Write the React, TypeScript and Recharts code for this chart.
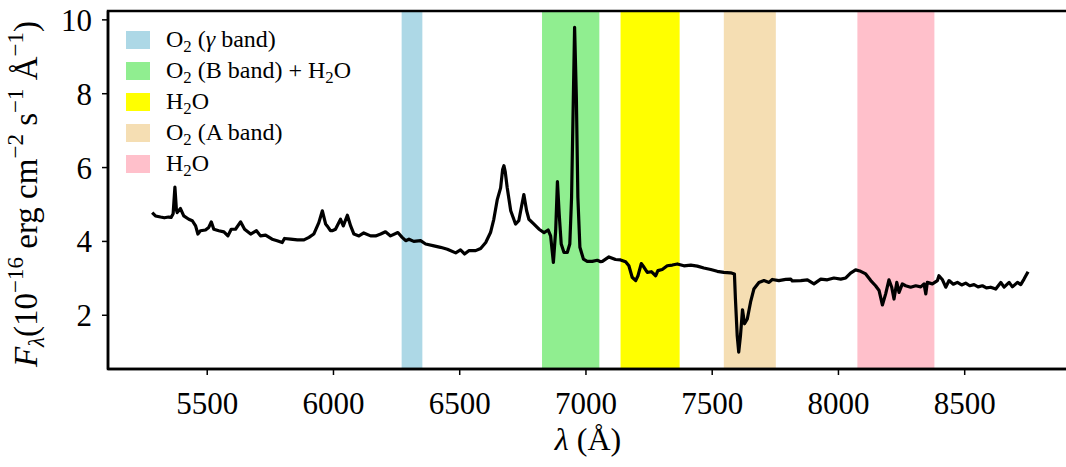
import React from 'react';
import { LineChart, Line, XAxis, YAxis, ReferenceArea, Legend, Label } from 'recharts';

// Spectrum (wavelength in Å, flux in 1e-16 erg cm^-2 s^-1 Å^-1)
const wavelength = [
  5282, 5295, 5315, 5330, 5347, 5357, 5365, 5372, 5378, 5381, 5394, 5407, 5427, 5441, 5454, 5463, 5473, 5493,
  5506, 5516, 5526, 5546, 5566, 5582, 5595, 5612, 5632, 5648, 5672, 5695, 5711, 5731, 5757, 5777, 5797, 5806,
  5830, 5857, 5883, 5903, 5922, 5942, 5956, 5969, 5975, 5988, 5995, 6008, 6028, 6039, 6055, 6068, 6081, 6101,
  6120, 6147, 6167, 6187, 6206, 6226, 6255, 6272, 6286, 6299, 6318, 6345, 6365, 6398, 6424, 6451, 6484, 6503,
  6519, 6536, 6563, 6583, 6603, 6622, 6635, 6649, 6662, 6670, 6675, 6680, 6688, 6702, 6721, 6734, 6744, 6754,
  6765, 6774, 6794, 6814, 6834, 6850, 6860, 6871, 6880, 6887, 6894, 6902, 6913, 6926, 6936, 6943, 6950, 6955,
  6962, 6968, 6976, 6990, 7005, 7025, 7045, 7058, 7065, 7091, 7117, 7137, 7157, 7170, 7183, 7197, 7206, 7219,
  7230, 7243, 7259, 7276, 7285, 7302, 7322, 7342, 7362, 7388, 7415, 7441, 7467, 7494, 7520, 7546, 7573, 7588,
  7592, 7599, 7605, 7612, 7620, 7628, 7639, 7652, 7665, 7685, 7705, 7725, 7738, 7764, 7791, 7811, 7817, 7851,
  7877, 7903, 7930, 7956, 7982, 8009, 8029, 8048, 8068, 8088, 8108, 8128, 8147, 8161, 8174, 8187, 8200, 8211,
  8220, 8231, 8240, 8253, 8266, 8286, 8306, 8326, 8339, 8346, 8352, 8372, 8392, 8398, 8412, 8425, 8438, 8455,
  8471, 8488, 8504, 8520, 8537, 8553, 8570, 8586, 8603, 8623, 8643, 8656, 8676, 8689, 8709, 8722, 8735, 8751,
];
const flux = [
  4.78, 4.69, 4.66, 4.64, 4.66, 4.65, 4.75, 5.47, 4.85, 4.78, 4.89, 4.69, 4.6, 4.56, 4.42, 4.2, 4.29, 4.31,
  4.38, 4.53, 4.33, 4.29, 4.26, 4.15, 4.33, 4.33, 4.53, 4.33, 4.2, 4.29, 4.15, 4.17, 4.06, 4.02, 3.97, 4.08,
  4.06, 4.04, 4.04, 4.11, 4.2, 4.51, 4.83, 4.47, 4.42, 4.29, 4.29, 4.33, 4.6, 4.42, 4.71, 4.42, 4.2, 4.15,
  4.23, 4.15, 4.15, 4.2, 4.26, 4.15, 4.24, 4.11, 4.02, 4.06, 4.0, 4.02, 3.93, 3.88, 3.84, 3.79, 3.69, 3.77,
  3.66, 3.75, 3.75, 3.81, 3.97, 4.24, 4.6, 5.14, 5.45, 5.95, 6.05, 5.9, 5.46, 4.83, 4.47, 4.56, 4.92, 5.27,
  4.83, 4.6, 4.47, 4.33, 4.24, 4.31, 4.15, 3.43, 4.29, 5.62, 4.74, 3.93, 3.7, 3.7, 3.93, 5.19, 7.89, 9.8,
  7.89, 5.19, 3.84, 3.52, 3.46, 3.46, 3.49, 3.45, 3.46, 3.58, 3.51, 3.5, 3.45, 3.34, 3.03, 2.94, 3.07, 3.4,
  3.3, 3.16, 3.18, 3.07, 3.21, 3.24, 3.34, 3.36, 3.39, 3.34, 3.36, 3.33, 3.28, 3.24, 3.19, 3.16, 3.15, 3.12,
  2.44, 1.45, 1.0, 1.45, 2.15, 1.77, 1.9, 2.36, 2.71, 2.89, 2.94, 2.89, 2.97, 2.94, 2.97, 2.98, 2.93, 2.94,
  2.96, 2.85, 2.98, 2.96, 3.01, 2.98, 3.01, 3.14, 3.23, 3.19, 3.12, 2.94, 2.8, 2.67, 2.28, 2.58, 2.96, 2.76,
  2.44, 2.89, 2.62, 2.85, 2.8, 2.76, 2.8, 2.77, 2.85, 2.58, 2.89, 2.85, 2.94, 3.07, 2.96, 2.76, 2.94, 2.84,
  2.89, 2.82, 2.87, 2.8, 2.83, 2.77, 2.8, 2.74, 2.76, 2.71, 2.89, 2.76, 2.89, 2.77, 2.89, 2.83, 2.98, 3.18,
];

const xTicks = [5500, 6000, 6500, 7000, 7500, 8000, 8500];
const yTicks = [2, 4, 6, 8, 10];

// Telluric absorption bands
const bandLabels: [string, string][][] = [
  [['O', ''], ['2', 'sub'], [' (', ''], ['γ', 'it'], [' band)', '']],
  [['O', ''], ['2', 'sub'], [' (B band) + H', ''], ['2', 'sub'], ['O', '']],
  [['H', ''], ['2', 'sub'], ['O', '']],
  [['O', ''], ['2', 'sub'], [' (A band)', '']],
  [['H', ''], ['2', 'sub'], ['O', '']],
];
const bandStart = [6270, 6826, 7137, 7546, 8075];
const bandEnd = [6352, 7053, 7371, 7752, 8380];
const bandColors = ['#ADD8E6', '#90EE90', '#FFFF00', '#F5DEB3', '#FFC0CB'];

const xDomain = [5107, 8925];
const yDomain = [0.545, 10.24];

const data = wavelength.map((w, i) => ({ w, f: flux[i] }));
const FONT = "'Liberation Serif', 'DejaVu Serif', serif";

const YLabel = (props: any) => {
  const vb = props.viewBox || { x: 48, y: 11, width: 60, height: 358 };
  const cx = 37;
  const cy = vb.y + vb.height / 2 + 4;
  return (
    <text x={cx} y={cy} transform={`rotate(-90 ${cx} ${cy})`} textAnchor="middle" fontSize={33} fontFamily={FONT} fill="#000">
      <tspan fontStyle="italic">F</tspan>
      <tspan fontSize={23} fontStyle="italic" dy={7}>λ</tspan>
      <tspan dy={-7}>{'(10'}</tspan>
      <tspan fontSize={23} dy={-14}>{'−16'}</tspan>
      <tspan dy={14}>{' erg cm'}</tspan>
      <tspan fontSize={23} dy={-14}>{'−2'}</tspan>
      <tspan dy={14}>{' s'}</tspan>
      <tspan fontSize={23} dy={-14}>{'−1'}</tspan>
      <tspan dy={14}>{' Å'}</tspan>
      <tspan fontSize={23} dy={-14}>{'−1'}</tspan>
      <tspan dy={14}>{')'}</tspan>
    </text>
  );
};

const XLabel = (props: any) => {
  const vb = props.viewBox || { x: 108, y: 369, width: 964, height: 60 };
  const cx = 588;
  return (
    <text x={cx} y={vb.y + 81} textAnchor="middle" fontSize={32} fontFamily={FONT} fill="#000">
      <tspan fontStyle="italic">λ</tspan>
      <tspan>{' (Å)'}</tspan>
    </text>
  );
};

const LegendBox = () => (
  <div style={{ fontFamily: FONT, fontSize: 24, color: '#000', position: 'relative' }}>
    {bandLabels.map((segs, i) => (
      <div key={i} style={{ display: 'flex', alignItems: 'center', height: 31.1, whiteSpace: 'pre' }}>
        <div style={{ width: 24, height: 18, background: bandColors[i], flex: '0 0 auto' }} />
        <div style={{ marginLeft: 16, lineHeight: 'normal' }}>
          {segs.map(([t, k], j) =>
            k === 'sub' ? (
              <span key={j} style={{ fontSize: '0.7em', position: 'relative', top: '0.28em' }}>{t}</span>
            ) : k === 'it' ? (
              <span key={j} style={{ fontStyle: 'italic' }}>{t}</span>
            ) : (
              <span key={j}>{t}</span>
            )
          )}
        </div>
      </div>
    ))}
  </div>
);

export default function App() {
  return (
    <div style={{ position: 'fixed', left: 0, top: 0, width: 1066, height: 467, overflow: 'hidden', background: '#fff' }}>
      <LineChart
        width={1090}
        height={467}
        data={data}
        margin={{ top: 11, right: 18, bottom: 38, left: 48 }}
        style={{ fontFamily: FONT }}
      >
        {bandStart.map((s, i) => (
          <ReferenceArea
            key={i}
            x1={s}
            x2={bandEnd[i]}
            y1={yDomain[0]}
            y2={yDomain[1]}
            fill={bandColors[i]}
            fillOpacity={1}
            stroke="none"
            isAnimationActive={false}
          />
        ))}
        <XAxis
          dataKey="w"
          type="number"
          domain={xDomain}
          ticks={xTicks}
          interval={0}
          allowDataOverflow
          height={60}
          tickSize={6}
          tickMargin={17}
          tick={{ fontSize: 31, fill: '#000', fontFamily: FONT }}
          tickLine={{ stroke: '#000', strokeWidth: 1.5 }}
          axisLine={{ stroke: '#000', strokeWidth: 2.5 }}
        >
          <Label content={<XLabel />} />
        </XAxis>
        <YAxis
          type="number"
          domain={yDomain}
          ticks={yTicks}
          interval={0}
          allowDataOverflow
          width={60}
          tickSize={6}
          tickMargin={10}
          tick={{ fontSize: 31, fill: '#000', fontFamily: FONT }}
          tickLine={{ stroke: '#000', strokeWidth: 1.5 }}
          axisLine={{ stroke: '#000', strokeWidth: 2.5 }}
        >
          <Label content={<YLabel />} />
        </YAxis>
        <Line
          type="linear"
          dataKey="f"
          stroke="#000"
          strokeWidth={3.2}
          strokeLinejoin="round"
          dot={false}
          activeDot={false}
          isAnimationActive={false}
        />
        <ReferenceArea
          x1={xDomain[0]}
          x2={xDomain[1]}
          y1={yDomain[0]}
          y2={yDomain[1]}
          fill="none"
          stroke="#000"
          strokeWidth={2.5}
          isAnimationActive={false}
        />
        <Legend
          layout="horizontal"
          verticalAlign="middle"
          align="center"
          content={<LegendBox />}
          wrapperStyle={{ position: 'absolute', left: 126, top: 24, width: 320, height: 160 }}
        />
      </LineChart>
    </div>
  );
}
